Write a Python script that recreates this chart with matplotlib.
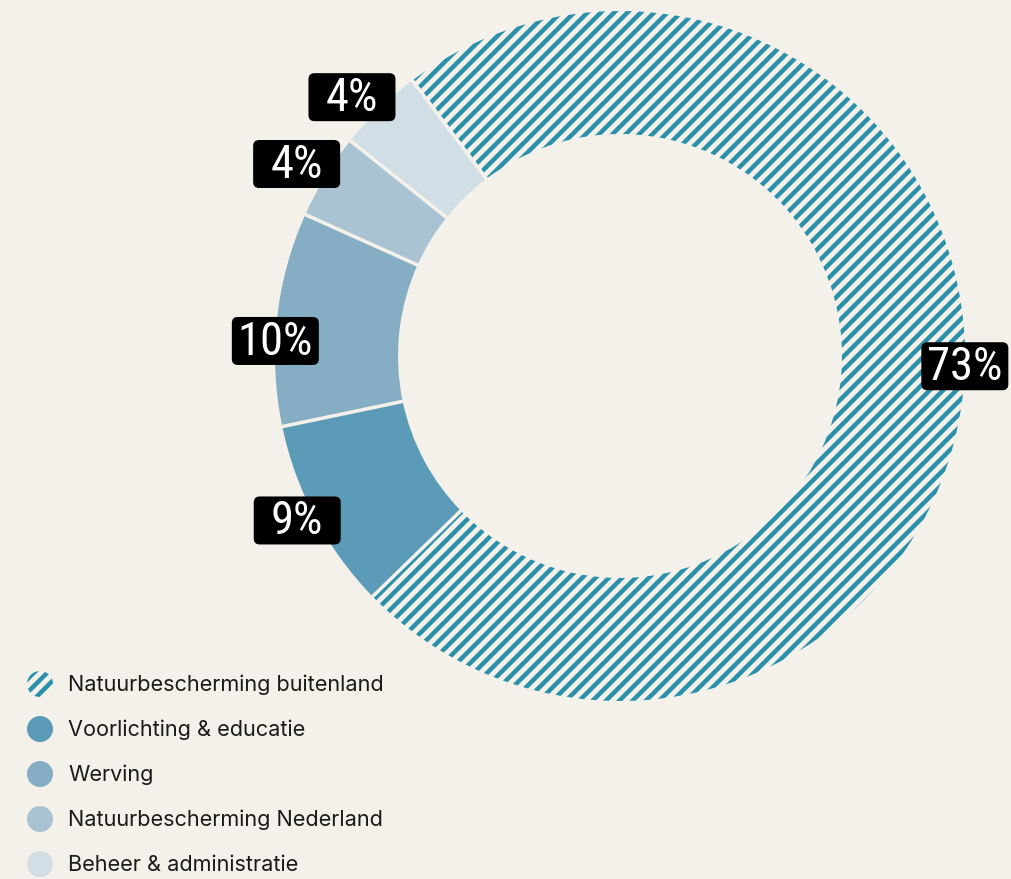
import numpy as np
import matplotlib
matplotlib.use("Agg")
import matplotlib.pyplot as plt
from matplotlib.patches import Circle, FancyBboxPatch

# data
categories = ["Natuurbescherming buitenland", "Voorlichting & educatie", "Werving",
              "Natuurbescherming Nederland", "Beheer & administratie"]
shares = [73, 9, 10, 4, 4]
labels = ["73%", "9%", "10%", "4%", "4%"]
colors = ["#2b91ab", "#5b9bb7", "#85adc3", "#a9c3d3", "#d1dee6"]

BG = "#f4f1eb"
W, H, DPI = 1011, 879, 80

plt.rcParams["hatch.linewidth"] = 4.0
plt.rcParams["hatch.color"] = colors[0]

fig = plt.figure(figsize=(W / DPI, H / DPI), dpi=DPI, facecolor=BG)
ax = fig.add_axes([0, 0, 1, 1])
ax.set_facecolor(BG)

# donut geometry in pixels (y up)
cx, cy = 620, H - 356
R, ring = 345, 123
start = 127

wedges, _ = ax.pie(shares, colors=colors, startangle=start, counterclock=False,
                   radius=R, center=(cx, cy),
                   wedgeprops=dict(width=ring, linewidth=0))
wedges[0].set_facecolor(BG)
wedges[0].set_hatch("//")
wedges[0].set_edgecolor(colors[0])

# gaps between slices
bounds = start - np.cumsum([0] + shares[:-1]) * 3.6
for a in np.radians(bounds):
    r0, r1 = R - ring - 2, R + 2
    ax.plot([cx + r0 * np.cos(a), cx + r1 * np.cos(a)],
            [cy + r0 * np.sin(a), cy + r1 * np.sin(a)],
            color=BG, lw=3.2, solid_capstyle="butt", zorder=3)

# percentage labels in fixed size black boxes
mids = start - (np.cumsum(shares) - np.array(shares) / 2) * 3.6
label_r = [1.0, 1.05, 1.0, 1.09, 1.08]
label_da = [2.7, -1.0, 3.7, 0.7, 1.8]
bw, bh = 87, 48
for txt, m, rr, da in zip(labels, mids, label_r, label_da):
    a = np.radians(m + da)
    x, y = cx + rr * R * np.cos(a), cy + rr * R * np.sin(a)
    ax.add_patch(FancyBboxPatch((x - bw / 2 + 6, y - bh / 2 + 6), bw - 12, bh - 12,
                                boxstyle="round,pad=6,rounding_size=6",
                                fc="black", ec="none", zorder=5))
    ax.text(x, y - 1, txt, ha="center", va="center", color="white", fontsize=42,
            family=["Roboto Condensed", "DejaVu Sans"], fontstretch="condensed",
            zorder=6)

# legend
for i, (name, c) in enumerate(zip(categories, colors)):
    y = H - (684 + i * 45)
    if i == 0:
        circ = Circle((40, y), 13, facecolor=BG, edgecolor=c, lw=0, hatch="//")
    else:
        circ = Circle((40, y), 13, facecolor=c, edgecolor="none")
    ax.add_patch(circ)
    ax.text(68, y - 1, name, ha="left", va="center", fontsize=19.5,
            family="Inter", color="#1a1a1a")

ax.set_xlim(0, W)
ax.set_ylim(0, H)
ax.set_aspect("auto")
ax.axis("off")

fig.savefig("out.png", dpi=DPI, facecolor=BG)
